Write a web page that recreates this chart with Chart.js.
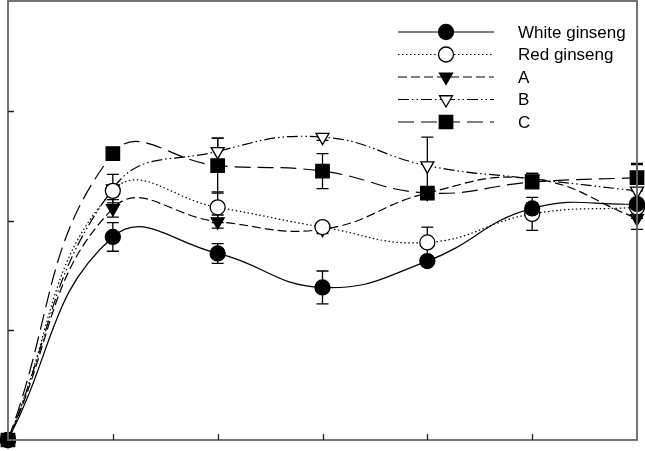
<!DOCTYPE html>
<html>
<head>
<meta charset="utf-8">
<script src="https://cdn.jsdelivr.net/npm/chart.js@4"></script>
<style>
  html, body { margin: 0; padding: 0; background: #fff; }
  #wrap { width: 645px; height: 451px; position: relative; }
</style>
</head>
<body>
<div id="wrap"><canvas id="chart"></canvas></div>
<script>
// x positions and axis ticks
const xValues = [0, 1, 2, 3, 4, 5, 6];
const xTicks = [1, 2, 3, 4, 5];
const yTicks = [1, 2, 3];

// series means
const whiteGinseng = [0, 1.85, 1.70, 1.39, 1.63, 2.11, 2.15];
const redGinseng   = [0, 2.27, 2.12, 1.94, 1.80, 2.06, 2.12];
const seriesA      = [0, 2.11, 1.99, 1.92, 2.25, 2.38, 2.02];
const seriesB      = [0, 2.29, 2.63, 2.76, 2.50, 2.38, 2.27];
const seriesC      = [0, 2.61, 2.50, 2.45, 2.25, 2.35, 2.39];

// error bar half widths
const whiteErr = [0, 0.13, 0.09, 0.15, 0.03, 0.05, 0.05];
const redErr   = [0, 0.05, 0.14, 0.04, 0.14, 0.15, 0.05];
const aErr     = [0, 0.08, 0.06, 0.04, 0.05, 0.05, 0.10];
const bErr     = [0, 0.13, 0.12, 0.03, 0.26, 0.05, 0.25];
const cErr     = [0, 0.04, 0.25, 0.16, 0.05, 0.05, 0.12];

const labels = ["White ginseng", "Red ginseng", "A", "B", "C"];

function pts(ys) {
    return xValues.map(function (x, i) { return { x: x, y: ys[i] }; });
}

function makeSet(label, ys, errs, style, fill, dash, rot) {
    return {
        label: label,
        data: pts(ys),
        errors: errs,
        borderColor: "#000",
        borderWidth: 1.2,
        borderDash: dash,
        tension: 0.45,
        pointStyle: style,
        pointRotation: rot,
        pointRadius: style === "rect" ? 9.5 : 7.5,
        pointBackgroundColor: fill,
        pointBorderColor: "#000",
        pointBorderWidth: 1.3,
        clip: false
    };
}

const datasets = [
    makeSet(labels[0], whiteGinseng, whiteErr, "circle", "#000", [], 0),
    makeSet(labels[1], redGinseng, redErr, "circle", "#fff", [1.5, 2.5], 0),
    makeSet(labels[2], seriesA, aErr, "triangle", "#000", [9, 4], 180),
    makeSet(labels[3], seriesB, bErr, "triangle", "#fff", [11, 3, 1.5, 3, 1.5, 3], 180),
    makeSet(labels[4], seriesC, cErr, "rect", "#000", [16, 7], 0)
];

// error bars drawn under the markers
const errorBars = {
    id: "errorBars",
    beforeDatasetsDraw: function (chart) {
        const ctx = chart.ctx;
        const xs = chart.scales.x, ys = chart.scales.y;
        ctx.save();
        ctx.strokeStyle = "#000";
        ctx.lineWidth = 1.3;
        chart.data.datasets.forEach(function (ds) {
            ds.data.forEach(function (p, i) {
                const e = ds.errors[i];
                if (!e) return;
                const px = xs.getPixelForValue(p.x);
                const top = ys.getPixelForValue(p.y + e);
                const bot = ys.getPixelForValue(p.y - e);
                ctx.beginPath();
                ctx.moveTo(px, top); ctx.lineTo(px, bot);
                ctx.moveTo(px - 6, top); ctx.lineTo(px + 6, top);
                ctx.moveTo(px - 6, bot); ctx.lineTo(px + 6, bot);
                ctx.stroke();
            });
        });
        ctx.restore();
    }
};

// frame, inward ticks and legend box
const frame = {
    id: "frame",
    afterDraw: function (chart) {
        const ctx = chart.ctx;
        const a = chart.chartArea;
        const xs = chart.scales.x, ys = chart.scales.y;
        ctx.save();
        ctx.strokeStyle = "#666";
        ctx.lineWidth = 1.8;
        ctx.strokeRect(a.left, a.top, a.right - a.left, a.bottom - a.top);
        ctx.strokeStyle = "#222";
        ctx.lineWidth = 1.3;
        ctx.beginPath();
        xTicks.forEach(function (t) {
            const px = Math.round(xs.getPixelForValue(t)) + 0.5;
            ctx.moveTo(px, a.bottom); ctx.lineTo(px, a.bottom - 6);
        });
        yTicks.forEach(function (t) {
            const py = Math.round(ys.getPixelForValue(t)) + 0.5;
            ctx.moveTo(a.left, py); ctx.lineTo(a.left + 6, py);
        });
        ctx.stroke();

        // legend
        const x0 = 398, x1 = 494, mx = 446, tx = 518;
        ctx.font = "17px 'Liberation Sans', Arial, sans-serif";
        ctx.textBaseline = "middle";
        chart.data.datasets.forEach(function (ds, i) {
            const y = 32 + i * 22.5;
            ctx.strokeStyle = "#000";
            ctx.lineWidth = ds.borderWidth;
            ctx.setLineDash(ds.borderDash);
            ctx.beginPath();
            ctx.moveTo(x0, y); ctx.lineTo(x1, y);
            ctx.stroke();
            ctx.setLineDash([]);
            ctx.fillStyle = ds.pointBackgroundColor;
            ctx.strokeStyle = ds.pointBorderColor;
            ctx.lineWidth = ds.pointBorderWidth;
            Chart.helpers.drawPoint(ctx, {
                pointStyle: ds.pointStyle,
                rotation: ds.pointRotation,
                radius: ds.pointRadius,
                borderWidth: ds.pointBorderWidth
            }, mx, y);
            ctx.fillStyle = "#000";
            ctx.fillText(ds.label, tx, y + 1);
        });
        ctx.restore();
    }
};

new Chart(document.getElementById("chart"), {
    type: "line",
    data: { datasets: datasets },
    options: {
        responsive: true,
        maintainAspectRatio: false,
        devicePixelRatio: 1,
        animation: false,
        layout: { autoPadding: false, padding: { left: 8, right: 8, top: 1, bottom: 11 } },
        scales: {
            x: { type: "linear", min: 0, max: 6, display: false },
            y: { type: "linear", min: 0, max: 4, display: false }
        },
        plugins: {
            legend: { display: false },
            tooltip: { enabled: false }
        }
    },
    plugins: [errorBars, frame]
});
</script>
</body>
</html>
